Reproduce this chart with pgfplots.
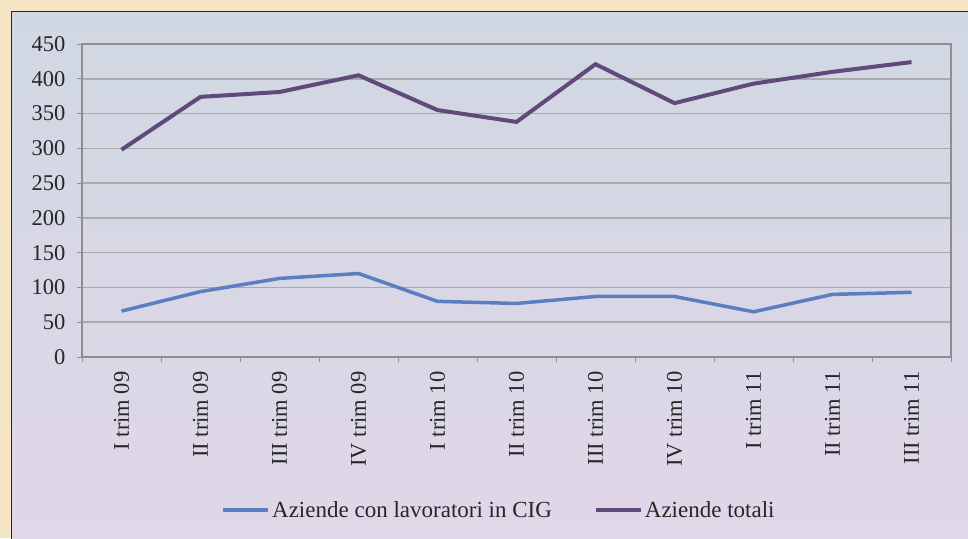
\documentclass[border=0pt]{standalone}
\usepackage{fontspec}
\setmainfont{Liberation Serif}
\usepackage{pgfplots}
\pgfplotsset{compat=1.18}
\definecolor{beige}{HTML}{F5E4C6}
\definecolor{paneltop}{HTML}{D0D7E3}
\definecolor{panelmid}{HTML}{FBFBFD}
\definecolor{panelbot}{HTML}{E0D7E8}
\definecolor{cigblue}{HTML}{5A7FC0}
\definecolor{totpurple}{HTML}{604A7B}
\definecolor{axgray}{HTML}{8E8E8E}
\definecolor{gridgray}{HTML}{ABABAB}
\begin{document}
\begin{tikzpicture}[x=1pt,y=1pt]
\useasboundingbox (0,0) rectangle (968,538);
\fill[beige] (0,0) rectangle (968,538);
\shade[top color=paneltop, middle color=panelmid, bottom color=panelbot] (11.5,-2) rectangle (970,526.5);
\draw[line width=1.2pt, black!85] (11.5,-2) -- (11.5,526.5) -- (970,526.5);
\begin{axis}[
  at={(82pt,181pt)}, anchor=south west,
  scale only axis, width=869pt, height=313pt,
  xmin=-0.5, xmax=10.5, ymin=0, ymax=450,
  ytick={0,50,...,450},
  xtick={0,...,10},
  xticklabels={I trim 09, II trim 09, III trim 09, IV trim 09, I trim 10, II trim 10, III trim 10, IV trim 10, I trim 11, II trim 11, III trim 11},
  minor xtick={-0.5,0.5,...,10.5},
  xtick pos=bottom, ytick pos=left,
  tick align=outside,
  major x tick style={draw=none},
  minor tick length=5pt, major tick length=5pt,
  tick style={axgray, line width=1pt},
  axis line style={axgray, line width=1.2pt},
  ymajorgrids,
  major grid style={gridgray, line width=1.6pt},
  ticklabel style={font=\fontsize{22.5}{25}\selectfont, text=black!85},
  /pgf/number format/assume math mode=true,
  x tick label style={rotate=90, anchor=east, xshift=-6pt},
  y tick label style={xshift=-8pt},
  axis background/.style={fill=none},
  legend columns=2,
  legend style={at={(axis description cs:0.48,-0.489)}, anchor=center, draw=none, fill=none,
    font=\fontsize{23}{25}\selectfont, text=black!85,
    /tikz/every even column/.append style={column sep=40pt}},
  legend image code/.code={\draw[#1] (0pt,0pt) -- (45pt,0pt);},
]
\addplot[cigblue, line width=3.5pt] coordinates {
(0,66) (1,94) (2,113) (3,120) (4,80) (5,77) (6,87) (7,87) (8,65) (9,90) (10,93)};
\addlegendentry{Aziende con lavoratori in CIG}
\addplot[totpurple, line width=4pt] coordinates {
(0,298) (1,374) (2,381) (3,405) (4,355) (5,338) (6,421) (7,365) (8,393) (9,410) (10,424)};
\addlegendentry{Aziende totali}
\end{axis}
\end{tikzpicture}
\end{document}
